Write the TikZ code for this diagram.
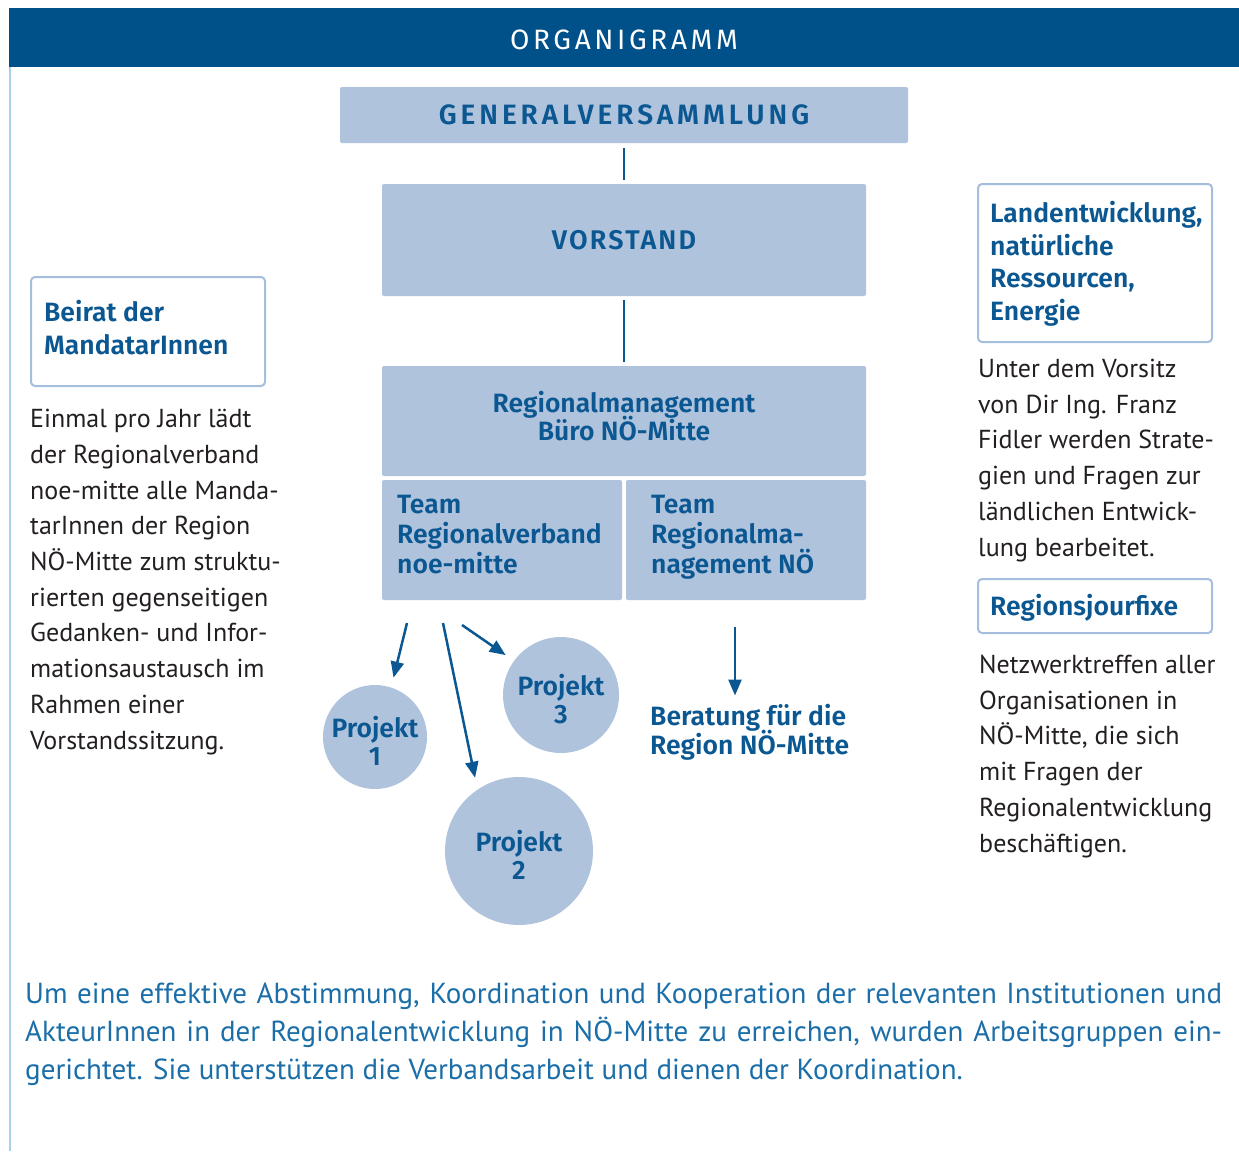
\documentclass[tikz,border=0pt]{standalone}
\usepackage{fontspec}
\setmainfont{PT Sans}
\newfontfamily\dinfont{Fira Sans}[BoldFont={Fira Sans SemiBold}]
\usetikzlibrary{arrows.meta}
% keep the requested baseline distances even for lines with accents and descenders
\lineskiplimit=-100pt

\definecolor{barblue}{HTML}{00508A}
\definecolor{textblue}{HTML}{0A5791}
\definecolor{boxfill}{HTML}{AFC3DD}
\definecolor{boxline}{HTML}{A5BEDD}
\definecolor{rulelight}{HTML}{A9D1E8}
\definecolor{noteblue}{HTML}{1B6EA8}
\definecolor{bodyblack}{HTML}{231F20}

\newcommand\dintitle{\dinfont\bfseries\fontsize{27}{30}\selectfont\addfontfeature{LetterSpace=8}}
\newcommand\dinlabel{\dinfont\bfseries\fontsize{26.5}{30}\selectfont}
\newcommand\bodyfont{\fontsize{26}{35.7}\selectfont}
\newcommand\notefont{\fontsize{29}{38}\selectfont}

\tikzset{
  fillbox/.style={fill=boxfill, rounded corners=2pt, inner sep=0pt,
    font=\dintitle, text=textblue, align=center},
  linebox/.style={draw=boxline, line width=2pt, rounded corners=4pt, fill=white,
    inner sep=0pt, minimum width=234pt, anchor=north west},
  boxtext/.style={font=\dinlabel, text=textblue, align=left, inner sep=0pt,
    anchor=base west},
  proj/.style={circle, fill=boxfill, inner sep=0pt,
    font=\dinfont\bfseries\fontsize{26.5}{28}\selectfont,
    text=textblue, align=center},
  bodytext/.style={font=\bodyfont, text=bodyblack, align=left, inner sep=0pt,
    anchor=base west},
  notetext/.style={font=\notefont, text=noteblue, inner sep=0pt, anchor=base west},
  link/.style={draw=textblue, line width=2.5pt},
  arr/.style={link, -{Triangle[length=16pt,width=13pt]}}
}

\begin{document}
\begin{tikzpicture}[x=1pt,y=-1pt]
\useasboundingbox (0,0) rectangle (1239,1151);

% header bar and left rule
\fill[barblue] (9,8) rectangle (1239,67);
\draw[rulelight, line width=2pt] (10,67) -- (10,1151);
\node[text=white, font=\dinfont\fontsize{28}{30}\selectfont\addfontfeature{LetterSpace=13}]
  (title) at (624,40) {ORGANIGRAMM};

% central hierarchy
\node[fillbox, minimum width=568pt, minimum height=56pt,
  font=\dinfont\bfseries\fontsize{28}{30}\selectfont\addfontfeature{LetterSpace=14}]
  (gv) at (624,115) {GENERALVERSAMMLUNG};
\node[fillbox, minimum width=484pt, minimum height=112pt] (vs) at (624,240) {VORSTAND};
\node[fillbox, minimum width=484pt, minimum height=110pt] (rm) at (624,421) {};
\node[boxtext, align=center, anchor=base, font=\dinfont\bfseries\fontsize{26.5}{28}\selectfont]
  (rmtxt) at (624,440) {Regionalmanagement\\Büro NÖ-Mitte};
\node[fillbox, minimum width=240pt, minimum height=120pt] (tl) at (502,540) {};
\node[fillbox, minimum width=240pt, minimum height=120pt] (tr) at (746,540) {};
\node[boxtext] (tltxt) at (397,573) {Team\\Regionalverband\\noe-mitte};
\node[boxtext] (trtxt) at (651,573) {Team\\Regionalma-\\nagement NÖ};

\draw[link, shorten <=5pt, shorten >=4pt] (gv) -- (vs);
\draw[link, shorten <=4pt, shorten >=4pt] (vs) -- (rm);

% projects
\node[proj, minimum size=104pt] (p1) at (375,737) {\rule{0pt}{29pt}Projekt\\1};
\node[proj, minimum size=116pt] (p3) at (561,695) {\rule{0pt}{29pt}Projekt\\3};
\node[proj, minimum size=148pt] (p2) at (519,851) {\rule{0pt}{29pt}Projekt\\2};

\coordinate (s1) at (407,623);
\coordinate (s2) at (443,623);
\coordinate (s3) at (462,625);
\coordinate (s4) at (735,627);
\draw[arr, shorten >=10pt] (s1) -- (p1.72);
\draw[arr, shorten >=12pt] (s2) -- (p2.124);
\draw[arr, shorten >=10pt] (s3) -- (p3.144);

\node[boxtext, font=\dinfont\bfseries\fontsize{26.5}{29}\selectfont]
  (ber) at (650,754) {Beratung für die\\Region NÖ-Mitte};
\draw[arr, shorten >=8pt] (s4) -- (s4 |- ber.north);

% left column
\node[linebox, minimum height=109pt] (beirat) at (30,276) {};
\node[boxtext, font=\dinfont\bfseries\fontsize{26.5}{32.5}\selectfont]
  (beirattitle) at (44,354) {Beirat der\\MandatarInnen};
\node[bodytext] (beirattxt) at (30,749)
  {Einmal pro Jahr lädt\\der Regionalverband\\noe-mitte alle Manda-\\tarInnen der Region\\NÖ-Mitte zum struktu-\\rierten gegenseitigen\\Gedanken- und Infor-\\mationsaustausch im\\Rahmen einer\\Vorstandssitzung.};

% right column
\node[linebox, minimum height=158pt] (land) at (977,183) {};
\node[boxtext, font=\dinfont\bfseries\fontsize{26.5}{32.5}\selectfont]
  (landtitle) at (990,320) {Landentwicklung,\\natürliche\\Ressourcen,\\Energie};
\node[bodytext] (landtxt) at (978,556)
  {Unter dem Vorsitz\\von Dir Ing. Franz\\Fidler werden Strate-\\gien und Fragen zur\\ländlichen Entwick-\\lung bearbeitet.};
\node[linebox, minimum height=54pt] (jour) at (977,578) {};
\node[boxtext] (jourtitle) at (990,615) {Regionsjourfixe};
\node[bodytext] (jourtxt) at (979,852)
  {Netzwerktreffen aller\\Organisationen in\\NÖ-Mitte, die sich\\mit Fragen der\\Regionalentwicklung\\beschäftigen.};

% closing note
\node[notetext] (n1) at (25,1003)
  {\makebox[1197pt][s]{Um eine effektive Abstimmung, Koordination und Kooperation der relevanten Institutionen und}};
\node[notetext] (n2) at (25,1041)
  {\makebox[1197pt][s]{AkteurInnen in der Regionalentwicklung in NÖ-Mitte zu erreichen, wurden Arbeitsgruppen ein-}};
\node[notetext] (n3) at (25,1079)
  {gerichtet. Sie unterstützen die Verbandsarbeit und dienen der Koordination.};
\end{tikzpicture}
\end{document}
